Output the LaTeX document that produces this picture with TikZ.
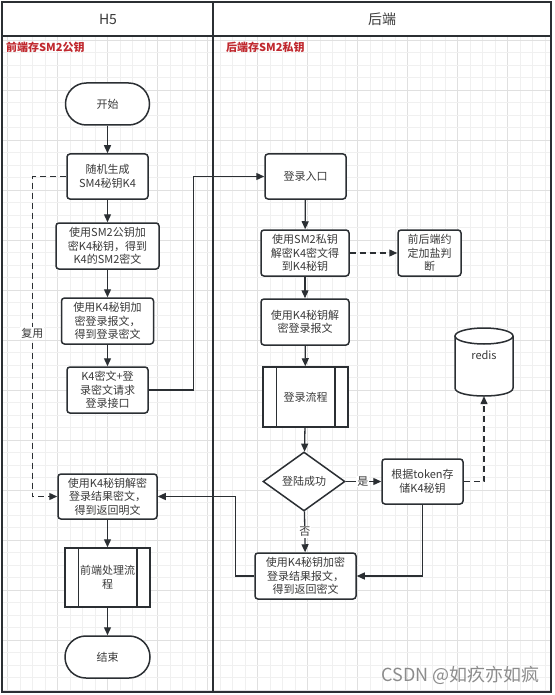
\documentclass[tikz,border=0pt]{standalone}
\usepackage{fontspec}
\setmainfont{Noto Sans CJK SC}
\usetikzlibrary{arrows.meta,shapes.geometric,calc}
\definecolor{ln}{HTML}{2B2F33}
\definecolor{tx}{HTML}{3A3A3A}
\definecolor{rd}{HTML}{C0282E}
\definecolor{gmin}{HTML}{F0F0F0}
\definecolor{gmaj}{HTML}{E0E0E0}
\definecolor{wm}{HTML}{8C8C8C}
\tikzset{
  box/.style={draw=ln, line width=1.5pt, rounded corners=3pt, fill=white, align=center,
    text=tx, font=\fontsize{11}{13.5}\selectfont, inner sep=0pt},
  term/.style={box, rounded corners=20.9pt},
  pproc/.style={box, rounded corners=0pt},
  dia/.style={diamond, draw=ln, line width=1.5pt, fill=white, text=tx,
    font=\fontsize{11}{13.5}\selectfont, inner sep=0pt, aspect=1.39},
  arr/.style={draw=ln, line width=1.3pt, -{Triangle[length=8pt,width=7pt]}},
  dsh/.style={arr, dash pattern=on 6pt off 4pt},
  hdr/.style={text=tx, font=\fontsize{14}{14}\selectfont, inner sep=0pt},
  lbl/.style={text=rd, font=\fontsize{11}{11}\selectfont\bfseries, inner sep=0pt},
  elab/.style={fill=white, text=tx, font=\fontsize{11}{11}\selectfont, inner sep=1pt},
}
\begin{document}
\begin{tikzpicture}[x=1pt,y=-1pt]
\useasboundingbox (0,0) rectangle (554,695);
\fill[white] (0,0) rectangle (554,695);
% grid
\begin{scope}
\clip (2,36) rectangle (551,692);
\foreach \i in {0,...,44} {
  \pgfmathtruncatemacro\m{mod(\i,4)}
  \ifnum\m=0 \def\gc{gmaj}\else\def\gc{gmin}\fi
  \draw[\gc, line width=0.7pt] ({7.5+12.5*\i},36) -- ({7.5+12.5*\i},692);
}
\foreach \j in {0,...,52} {
  \pgfmathtruncatemacro\m{mod(\j,4)}
  \ifnum\m=0 \def\gc{gmaj}\else\def\gc{gmin}\fi
  \draw[\gc, line width=0.7pt] (2,{40+12.5*\j}) -- (551,{40+12.5*\j});
}
\end{scope}
% frame
\draw[ln, line width=1.8pt] (2,2) rectangle (551,692);
\draw[ln, line width=1.8pt] (2,36) -- (551,36);
\draw[ln, line width=1.8pt] (213,2) -- (213,692);
\node[hdr] (h5) at (108,19) {H5};
\node[hdr] (hd) at (382,19) {后端};
\node[lbl, anchor=west] (l1) at (6,47) {前端存SM2公钥};
\node[lbl, anchor=west] (l2) at (226,47) {后端存SM2私钥};
% left column
\node[term, minimum width=84pt, minimum height=42pt] (start) at (107.5,104) {开始};
\node[box, minimum width=81pt, minimum height=45pt] (gen) at (107.5,176.5) {随机生成\\SM4秘钥K4};
\node[box, minimum width=103pt, minimum height=46pt] (enc1) at (107.5,246) {使用SM2公钥加\\密K4秘钥，得到\\K4的SM2密文};
\node[box, minimum width=92pt, minimum height=46pt] (enc2) at (107.5,321) {使用K4秘钥加\\密登录报文，\\得到登录密文};
\node[box, minimum width=81pt, minimum height=46pt] (req) at (107.5,390) {K4密文+登\\录密文请求\\登录接口};
\node[box, minimum width=99pt, minimum height=45pt] (dec) at (107.5,496.5) {使用K4秘钥解密\\登录结果密文，\\得到返回明文};
\node[pproc, minimum width=85pt, minimum height=59pt] (proc) at (107.5,577.5) {前端处理流\\程};
\draw[ln, line width=1.5pt] ([xshift=14pt]proc.north west) -- ([xshift=14pt]proc.south west);
\draw[ln, line width=1.5pt] ([xshift=-14pt]proc.north east) -- ([xshift=-14pt]proc.south east);
\node[term, minimum width=85pt, minimum height=42pt] (end) at (107.5,657) {结束};
% right column
\node[box, minimum width=81pt, minimum height=45pt] (entry) at (305.5,176.5) {登录入口};
\node[box, minimum width=88pt, minimum height=46pt] (dsm2) at (305,253) {使用SM2私钥\\解密K4密文得\\到K4秘钥};
\node[box, minimum width=63pt, minimum height=46pt] (salt) at (429.5,253) {前后端约\\定加盐判\\断};
\node[box, minimum width=88pt, minimum height=46pt] (dlogin) at (305,322) {使用K4秘钥解\\密登录报文};
\node[pproc, minimum width=85pt, minimum height=60pt] (flow) at (305.5,397) {登录流程};
\draw[ln, line width=1.5pt] ([xshift=14pt]flow.north west) -- ([xshift=14pt]flow.south west);
\draw[ln, line width=1.5pt] ([xshift=-14pt]flow.north east) -- ([xshift=-14pt]flow.south east);
\node[dia, minimum width=82pt, minimum height=59pt] (succ) at (304,481.5) {登陆成功};
\node[box, minimum width=81pt, minimum height=45pt] (token) at (422.5,481.5) {根据token存\\储K4秘钥};
\node[box, minimum width=101pt, minimum height=46pt] (encr) at (305.5,576) {使用K4秘钥加密\\登录结果报文，\\得到返回密文};
% redis cylinder
\fill[white] (455,336) -- (455,388) .. controls (455,398.67) and (513,398.67) .. (513,388) -- (513,336) -- cycle;
\draw[ln, line width=1.5pt] (455,336) -- (455,388) .. controls (455,398.67) and (513,398.67) .. (513,388) -- (513,336);
\draw[ln, line width=1.5pt, fill=white] (484,336) ellipse [x radius=29, y radius=8];
\node[inner sep=0pt, minimum width=58pt, minimum height=68pt] (redis) at (484,362) {};
\node[text=tx, font=\fontsize{11}{11}\selectfont, inner sep=0pt] (redist) at (484,355) {redis};
% connectors left
\draw[arr] (start) -- (gen);
\draw[arr] (gen) -- (enc1);
\draw[arr] (enc1) -- (enc2);
\draw[arr] (enc2) -- (req);
\draw[arr] (dec) -- (proc);
\draw[arr] (proc) -- (end);
\draw[dsh] (gen.west) -- ++(-34,0) |- (dec.west) node[elab, pos=0.245] {复用};
\draw[arr] (req.east) -- ++(45,0) |- (entry.west);
% connectors right
\draw[arr] (entry) -- (dsm2);
\draw[dsh] (dsm2) -- (salt);
\draw[arr] (dsm2) -- (dlogin);
\draw[arr] (dlogin) -- (flow);
\draw[arr] (flow) -- (succ);
\draw[arr] (succ) -- (token) node[elab, pos=0.48] {是};
\draw[arr] (succ) -- (encr) node[elab, pos=0.5] {否};
\draw[arr] (token.south) |- (encr.east);
\draw[dsh] (token.east) -| (redis.south);
\draw[arr] (encr.west) -- ++(-19,0) |- (dec.east);
% watermark
\node[text=wm, font=\fontsize{18}{18}\selectfont, inner sep=0pt, anchor=east] (wmk) at (540,675) {CSDN @如疚亦如疯};
\end{tikzpicture}
\end{document}
